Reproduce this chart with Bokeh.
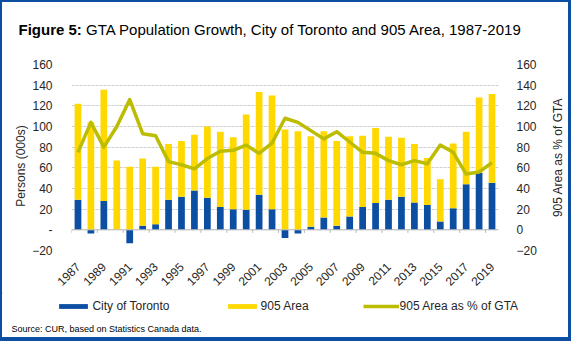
import math
from bokeh.plotting import figure
from bokeh.models import (ColumnDataSource, Range1d, LinearAxis, FixedTicker, Label,
                          Legend, LegendItem, Span)
from bokeh.embed import file_html
from bokeh.resources import INLINE

# ---- data ----
years = list(range(1987, 2020))
toronto = [29, -3.5, 28, 0, -13, 4, 5.5, 29, 32, 38,
           31, 22, 20, 19.5, 34, 20, -8, -3.5, 3, 12,
           4, 13, 22, 26, 29, 32, 26.5, 24, 8, 21,
           44, 55, 45.5]
area905 = [93, 104, 107.5, 67, 61, 65, 55.5, 54, 54, 54,
           69, 73, 69.5, 92, 99.5, 110, 97, 95.5, 87.5, 83.5,
           82, 77.5, 69, 72.5, 61, 57, 56.5, 45.5, 41, 62.5,
           51, 73, 86]
pct905 = [75, 104, 80, 100, 126, 93, 91, 66, 63, 59,
          69, 76, 77, 82, 74, 84, 108, 104, 96, 88,
          95, 85, 75, 74, 67, 63, 67, 64, 82, 75,
          54, 56, 65]
tick_years = years[::2]
y_ticks = [-20, 0, 20, 40, 60, 80, 100, 120, 140, 160]

title_bold = "Figure 5:"
title_rest = "GTA Population Growth, City of Toronto and 905 Area, 1987-2019"
left_title = "Persons (000s)"
right_title = "905 Area as % of GTA"
source_text = "Source: CUR, based on Statistics Canada data."
legend_labels = ["City of Toronto", "905 Area", "905 Area as % of GTA"]

BLUE = "#0B4EA2"
YELLOW = "#FFD800"
OLIVE = "#BCBC00"
FRAME_BLUE = "#0B4EA2"
FONT = "Liberation Sans"
TXT = "#262626"

W = 571
TOP_H, MAIN_H, BOT_H = 52, 240, 49


def border(f, widths):
    f.styles = {"border-style": "solid", "border-color": FRAME_BLUE, "border-width": widths}


def strip(height):
    f = figure(width=W, height=height, x_range=Range1d(0, W), y_range=Range1d(height, 0),
               output_backend="svg", toolbar_location=None, min_border=0,
               min_border_left=0, min_border_right=0, min_border_top=0, min_border_bottom=0,
               x_axis_location=None, y_axis_location=None)
    f.grid.visible = False
    f.outline_line_color = None
    f.background_fill_color = "white"
    f.border_fill_color = "white"
    return f


# ---------------- title strip ----------------
top = strip(TOP_H)
border(top, "2px 3px 0px 2px")
top.add_layout(Label(x=16, y=27, text=title_bold, text_font=FONT, text_font_size="15px",
                     text_font_style="bold", text_color="#000000", text_baseline="alphabetic"))
top.add_layout(Label(x=83.5, y=27, text=title_rest, text_font=FONT, text_font_size="15px",
                     text_color="#000000", text_baseline="alphabetic"))

# ---------------- main chart ----------------
bottom905 = [max(t, 0) for t in toronto]
top905 = [b + a for b, a in zip(bottom905, area905)]
src = ColumnDataSource(dict(year=years, toronto=toronto, zero=[0] * len(years),
                            b905=bottom905, t905=top905, pct=pct905))

p = figure(width=W, height=MAIN_H, x_range=Range1d(1986.5, 2019.5), y_range=Range1d(-20, 160),
           output_backend="svg", toolbar_location=None,
           min_border_left=69, min_border_right=75, min_border_top=12, min_border_bottom=42)
border(p, "0px 3px 0px 2px")
p.outline_line_color = None
p.background_fill_color = "white"
p.border_fill_color = "white"
p.extra_y_ranges = {"pct": Range1d(-20, 160)}

p.xgrid.visible = False
p.ygrid.ticker = FixedTicker(ticks=y_ticks)
p.ygrid.grid_line_color = "#cfcfcf"
p.ygrid.grid_line_dash = "3 1"

ya = p.yaxis[0]
ya.ticker = FixedTicker(ticks=y_ticks)
ya.major_label_overrides = {0: "-"}
ya.axis_line_color = None
ya.major_tick_line_color = None
ya.minor_tick_line_color = None
ya.major_label_standoff = 13
ya.major_label_text_font = FONT
ya.major_label_text_font_size = "12px"
ya.major_label_text_color = TXT

ra = LinearAxis(y_range_name="pct", ticker=FixedTicker(ticks=y_ticks))
ra.axis_line_color = None
ra.major_tick_line_color = None
ra.minor_tick_line_color = None
ra.major_label_standoff = 12
ra.major_label_text_font = FONT
ra.major_label_text_font_size = "12px"
ra.major_label_text_color = TXT
p.add_layout(ra, "right")

xa = p.xaxis[0]
xa.ticker = FixedTicker(ticks=tick_years)
xa.major_label_orientation = math.pi / 4
xa.axis_line_color = None
xa.major_tick_line_color = None
xa.minor_tick_line_color = None
xa.major_label_standoff = 8
xa.major_label_text_font = FONT
xa.major_label_text_font_size = "12px"
xa.major_label_text_color = TXT

p.add_layout(Span(location=0, dimension="width", line_color="#bdbdbd", line_width=1))
bounds = [y - 0.5 for y in tick_years]
p.segment(x0=bounds, y0=[0] * len(bounds), x1=bounds, y1=[-3] * len(bounds),
          line_color="#bdbdbd", line_width=1)

p.vbar(x="year", bottom="zero", top="toronto", width=0.52, source=src,
       fill_color=BLUE, line_color=None)
p.vbar(x="year", bottom="b905", top="t905", width=0.52, source=src,
       fill_color=YELLOW, line_color=None)
p.line(x="year", y="pct", source=src, y_range_name="pct",
       line_color=OLIVE, line_width=3.5, line_join="round")

p.add_layout(Label(x=16, y=113.5, x_units="canvas", y_units="canvas", text=left_title,
                   angle=math.pi / 2, text_align="center", text_baseline="middle",
                   text_font=FONT, text_font_size="12px", text_color=TXT), "left")
p.add_layout(Label(x=553, y=105, x_units="canvas", y_units="canvas", text=right_title,
                   angle=math.pi / 2, text_align="center", text_baseline="middle",
                   text_font=FONT, text_font_size="12px", text_color=TXT), "right")

# ---------------- legend + source strip ----------------
bot = strip(BOT_H)
border(bot, "0px 3px 4px 2px")
# legend key renderers, kept outside the visible range of this strip
g_tor = bot.vbar(x=[-1000], top=[1], width=1, fill_color=BLUE, line_color=None)
g_905 = bot.vbar(x=[-1000], top=[1], width=1, fill_color=YELLOW, line_color=None)
g_pct = bot.line(x=[-1000, -999], y=[1, 1], line_color=OLIVE, line_width=3.5)
legend = Legend(items=[LegendItem(label=legend_labels[0], renderers=[g_tor]),
                       LegendItem(label=legend_labels[1], renderers=[g_905]),
                       LegendItem(label=legend_labels[2], renderers=[g_pct])],
                orientation="horizontal", location=(53.4, 28),
                glyph_width=36, glyph_height=6, spacing=54, label_standoff=1,
                padding=0, margin=0, border_line_color=None, background_fill_alpha=0,
                label_text_font=FONT, label_text_font_size="12px", label_text_color=TXT)
bot.add_layout(legend)
bot.add_layout(Label(x=9, y=36, text=source_text, text_align="left", text_baseline="middle",
                     text_font=FONT, text_font_size="9px", text_color="#000000"))

open("out.html", "w").write(file_html([top, p, bot], INLINE))
